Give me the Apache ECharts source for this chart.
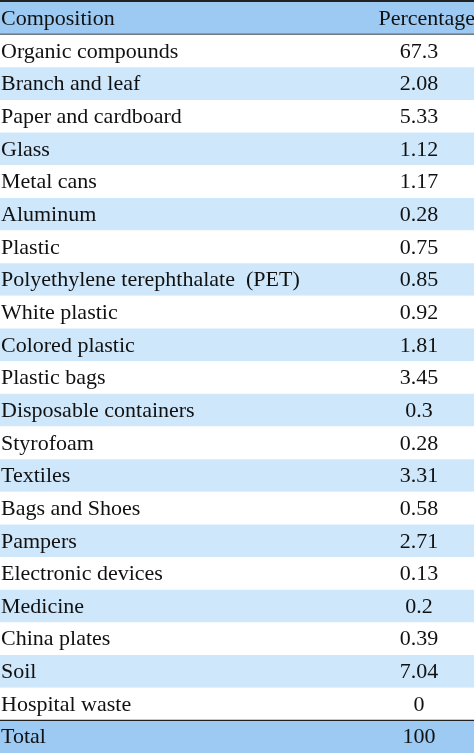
<!DOCTYPE html>
<html><head><meta charset="utf-8">
<script src="https://cdn.jsdelivr.net/npm/echarts@6/dist/echarts.min.js"></script>
<style>html,body{margin:0;padding:0;background:#fff}#c{width:474px;height:753px}</style>
</head><body><div id="c"></div>
<script>
const headers = ["Composition", "Percentage"];
const categories = ["Organic compounds","Branch and leaf","Paper and cardboard","Glass","Metal cans","Aluminum","Plastic","Polyethylene terephthalate  (PET)","White plastic","Colored plastic","Plastic bags","Disposable containers","Styrofoam","Textiles","Bags and Shoes","Pampers","Electronic devices","Medicine","China plates","Soil","Hospital waste"];
const values = ["67.3","2.08","5.33","1.12","1.17","0.28","0.75","0.85","0.92","1.81","3.45","0.3","0.28","3.31","0.58","2.71","0.13","0.2","0.39","7.04","0"];
const totalRow = ["Total", "100"];

const rows = [headers].concat(categories.map((c,i)=>[c, values[i]])).concat([totalRow]);
const yCats = rows.map((r,i)=>String(i));
const data = rows.map((r,i)=>[i, r[0], r[1]]);
const chart = echarts.init(document.getElementById('c'));
chart.setOption({
  animation:false,
  grid:{left:0,right:0,top:2,bottom:0},
  xAxis:{type:'value',min:0,max:474,show:false},
  yAxis:{type:'category',data:yCats,inverse:true,show:false},
  series:[{type:'custom',data:data,
    renderItem:function(params,api){
      const i = api.value(0);
      const c = api.coord([0,i]);
      const s = api.size([0,1]);
      const w = params.coordSys.width;
      const h = s[1];
      const top = c[1]-h/2;
      let fill = '#ffffff';
      if(i===0 || i===rows.length-1) fill='#9dcaf3';
      else if(i%2===0) fill='#cfe7fb';
      const children=[{type:'rect',shape:{x:0,y:top,width:w,height:h},style:{fill:fill}}];
      const ts = {fontSize:22,fontFamily:'Liberation Serif',fill:'#111',verticalAlign:'middle'};
      children.push({type:'text',style:Object.assign({text:rows[i][0],x:1,y:c[1]+1,align:'left'},ts)});
      if(i===0){
        children.push({type:'text',style:Object.assign({text:rows[i][1],x:w+1,y:c[1]+1,align:'right'},ts)});
        children.push({type:'rect',shape:{x:0,y:top-2,width:w,height:2},style:{fill:'#222'}});
        children.push({type:'rect',shape:{x:0,y:top+h-1,width:w,height:1.2},style:{fill:'#222'}});
      } else {
        children.push({type:'text',style:Object.assign({text:rows[i][1],x:419,y:c[1]+1,align:'center'},ts)});
      }
      if(i===rows.length-1){
        children.push({type:'rect',shape:{x:0,y:top-0.6,width:w,height:1.2},style:{fill:'#222'}});
      }
      return {type:'group',children:children};
    }
  }]
});
</script></body></html>
